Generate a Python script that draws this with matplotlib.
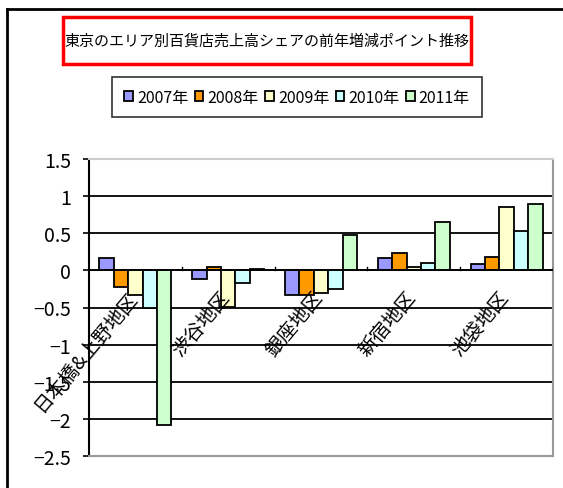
import matplotlib.pyplot as plt
import numpy as np
from matplotlib.lines import Line2D
from matplotlib.patches import Rectangle

plt.rcParams['font.family'] = ['Liberation Sans Narrow', 'Noto Sans CJK JP', 'DejaVu Sans']
jp = ['Noto Sans CJK JP', 'DejaVu Sans']

# data
areas = ['日本橋&上野地区', '渋谷地区', '銀座地区', '新宿地区', '池袋地区']
years = ['2007年', '2008年', '2009年', '2010年', '2011年']
v2007 = [0.16, -0.11, -0.33, 0.16, 0.08]
v2008 = [-0.22, 0.05, -0.33, 0.24, 0.18]
v2009 = [-0.33, -0.49, -0.30, 0.05, 0.86]
v2010 = [-0.51, -0.17, -0.25, 0.10, 0.53]
v2011 = [-2.08, 0.02, 0.48, 0.65, 0.89]
series = [v2007, v2008, v2009, v2010, v2011]
colors = ['#9999FF', '#FF9900', '#FFFFCC', '#CCFFFF', '#CCFFCC']
yticks = [1.5, 1, 0.5, 0, -0.5, -1, -1.5, -2, -2.5]

fig = plt.figure(figsize=(5.63, 4.89), dpi=100)

# outer chart border (left and top only visible)
fig.add_artist(Line2D([7/563, 7/563], [0, 1 - 10/489], color='black', lw=2))
fig.add_artist(Line2D([7/563, 1], [1 - 10/489, 1 - 10/489], color='black', lw=2))

ax = fig.add_axes([89/563, 1 - 457/489, (553 - 89)/563, (457 - 160)/489])
x = np.arange(len(areas))
w = 0.155
for k, vals in enumerate(series):
    ax.bar(x + (k - 2) * w, vals, w, color=colors[k], edgecolor='black',
           linewidth=1.3, label=years[k], zorder=3)

ax.set_xlim(-0.5, len(areas) - 0.5)
ax.set_ylim(-2.5, 1.5)
ax.set_yticks(yticks)
ax.set_yticklabels([('%g' % t).replace('-', '−') for t in yticks], fontsize=14)
ax.tick_params(axis='y', length=4, width=1.2, direction='out', pad=9)
ax.set_xticks([])
for t in yticks:
    if t not in (1.5, -2.5):
        ax.axhline(t, color='black', lw=1.3, zorder=1)
ax.axhline(0, color='black', lw=1.3, zorder=4)
# category boundary tick marks on the zero line
for b in np.arange(0.5, len(areas), 1.0):
    ax.plot([b, b], [0, 0.04], color='black', lw=1, zorder=4)

ax.spines['top'].set_color('#cccccc')
for s in ['right', 'bottom']:
    ax.spines[s].set_color('#999999')
for s in ['top', 'right', 'bottom']:
    ax.spines[s].set_linewidth(1.5)
ax.spines['left'].set_linewidth(1.5)

# rotated category labels sitting under the zero line
for i, name in enumerate(areas):
    ax.text(i - 0.1, -0.22, name, rotation=50, ha='right', va='top',
            rotation_mode='anchor', fontsize=14, family=jp, zorder=5)

# title in a red box
fig.text((63 + 471) / 2 / 563, 1 - 41/489, '東京のエリア別百貨店売上高シェアの前年増減ポイント推移',
         ha='center', va='center', fontsize=10.8, family=jp)
fig.add_artist(Rectangle((63/563, 1 - 65/489), (471 - 63)/563, 47/489,
                         fill=False, edgecolor='red', lw=2.5))

# legend
leg = fig.legend(loc='center', bbox_to_anchor=((116 + 478) / 2 / 563, 1 - 98/489),
                 ncol=5, fontsize=11.5, frameon=True, fancybox=False,
                 handlelength=0.55, handleheight=0.55, handletextpad=0.25,
                 columnspacing=0.4, borderpad=0.75, borderaxespad=0)
leg.get_frame().set_edgecolor('black')
leg.get_frame().set_linewidth(1.2)

fig.savefig('out.png', dpi=100)
